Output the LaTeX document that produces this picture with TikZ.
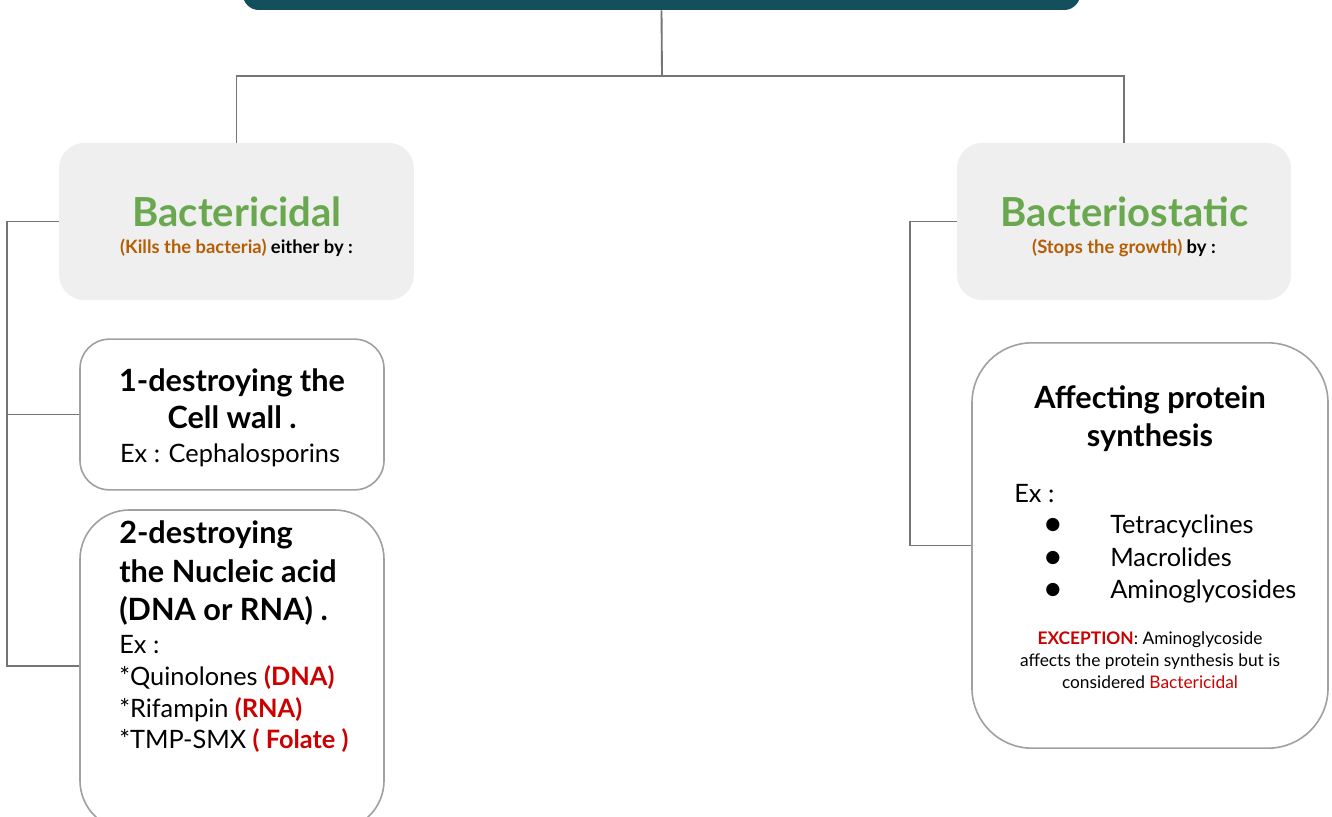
\documentclass[tikz,border=0pt]{standalone}
\usepackage{fontspec}
\setmainfont{Lato}
\newfontfamily\symfont{DejaVu Sans}
\usepackage{tikz}
\usetikzlibrary{positioning}
\definecolor{topteal}{HTML}{134F5C}
\definecolor{boxgray}{HTML}{EFEFEF}
\definecolor{edgegray}{HTML}{A0A0A0}
\definecolor{linkgray}{HTML}{757575}
\definecolor{headgreen}{HTML}{6AA84F}
\definecolor{noteorange}{HTML}{B45F06}
\definecolor{alertred}{HTML}{CC0000}

\tikzset{
  link/.style={linkgray, line width=1.4pt},
  headbox/.style={fill=boxgray, rounded corners=19pt, minimum height=118pt},
  waybox/.style={draw=edgegray, line width=1.2pt, fill=white},
  headtitle/.style={anchor=base, inner sep=0pt, text=headgreen, font=\fontsize{30}{34}\selectfont\bfseries},
  headnote/.style={anchor=base, inner sep=0pt, font=\fontsize{13.8}{16}\selectfont\bfseries},
  waytitle/.style={anchor=base, inner sep=0pt, font=\fontsize{23}{28}\selectfont\bfseries},
  waytext/.style={anchor=base, inner sep=0pt, font=\fontsize{19}{24}\selectfont},
  listdot/.style={anchor=base, inner sep=0pt, font=\symfont\fontsize{13}{13}\selectfont},
  smalltext/.style={anchor=base, inner sep=0pt, font=\fontsize{13}{16.5}\selectfont}
}

\begin{document}
\begin{tikzpicture}[x=0.75pt, y=-0.75pt]
        \useasboundingbox (0,0) rectangle (1332,817);

        % top banner
        \node[fill=topteal, rounded corners=12pt, minimum width=628pt, minimum height=30pt] (title) at (661.5,-10) {};

        % the two kinds
        \node[headbox, minimum width=266pt] (bcid) at (236.5,221.5) {};
        \node[headbox, minimum width=250.5pt] (bstat) at (1124,221.5) {};
        \node[headtitle] (bcidname) at (237,226) {Bactericidal};
        \node[headnote] (bcidnote) at (236.5,253) {\textcolor{noteorange}{(Kills the bacteria)} either by :};
        \node[headtitle] (bstatname) at (1124.5,226) {Bacteriostatic};
        \node[headnote] (bstatnote) at (1124,253) {\textcolor{noteorange}{(Stops the growth)} by :};

        % ways of killing
        \node[waybox, rounded corners=22pt, minimum width=228pt, minimum height=113pt] (wall) at (232,414.5) {};
        \node[waybox, rounded corners=37pt, minimum width=228pt, minimum height=240pt] (nucleic) at (232,670) {};
        \node[waytitle] (wall1) at (232,391) {1-destroying the};
        \node[waytitle] (wall2) at (232,428) {Cell wall .};
        \node[waytext] (wallex) at (230,462) {Ex : Cephalosporins};
        \node[waytitle, anchor=base west] (nucleic1) at (119,543) {2-destroying};
        \node[waytitle, anchor=base west] (nucleic2) at (119,582) {the Nucleic acid};
        \node[waytitle, anchor=base west] (nucleic3) at (119,620) {(DNA or RNA) .};
        \node[waytext, anchor=base west] (nucleicex) at (119,653) {Ex :};
        \node[waytext, anchor=base west] (drugdna) at (119,685) {*Quinolones \textcolor{alertred}{\bfseries(DNA)}};
        \node[waytext, anchor=base west] (drugrna) at (119,717) {*Rifampin \textcolor{alertred}{\bfseries(RNA)}};
        \node[waytext, anchor=base west] (drugfol) at (119,748) {*TMP-SMX \textcolor{alertred}{\bfseries( Folate )}};

        % way of stopping
        \node[waybox, rounded corners=45pt, minimum width=267pt, minimum height=304pt] (protein) at (1150,545.5) {};
        \node[waytitle] (protein1) at (1150,408) {Affecting protein};
        \node[waytitle] (protein2) at (1150,446) {synthesis};
        \node[waytext, anchor=base west] (proteinex) at (1014,502) {Ex :};
        \node[listdot] (dot1) at (1053,529) {●};
        \node[listdot] (dot2) at (1053,562) {●};
        \node[listdot] (dot3) at (1053,594) {●};
        \node[waytext, anchor=base west] (drug1) at (1110,533) {Tetracyclines};
        \node[waytext, anchor=base west] (drug2) at (1110,566) {Macrolides};
        \node[waytext, anchor=base west] (drug3) at (1110,598) {Aminoglycosides};
        \node[smalltext] (exception1) at (1150,644) {\textcolor{alertred}{\bfseries EXCEPTION}: Aminoglycoside};
        \node[smalltext] (exception2) at (1150,666) {affects the protein synthesis but is};
        \node[smalltext] (exception3) at (1150,688) {considered \textcolor{alertred}{Bactericidal}};

        % connectors
        \coordinate (split) at (662,76);
        \coordinate (lrail) at (7,300);
        \coordinate (rrail) at (910,300);
        \draw[link] (title.south) -- (split);
        \draw[link] (bcid.north) |- (split) -| (bstat.north);
        \draw[link] (bcid.west) -| (lrail) |- ([yshift=3pt]nucleic.west);
        \draw[link] (lrail |- wall.west) -- (wall.west);
        \draw[link] (bstat.west) -| (rrail) |- (protein.west);
    \end{tikzpicture}
\end{document}
